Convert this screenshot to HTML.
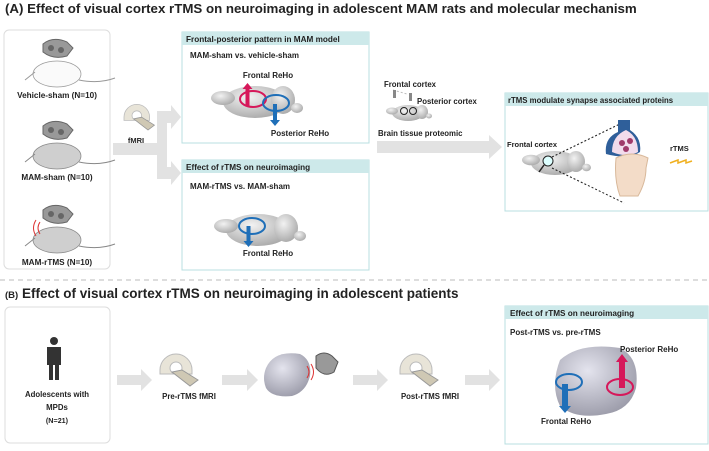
<!DOCTYPE html>
<html><head><meta charset="utf-8"><style>
body{margin:0;width:709px;height:446px;background:#fff;overflow:hidden;font-family:"Liberation Sans",sans-serif}
svg text{font-family:"Liberation Sans",sans-serif;font-weight:bold;fill:#222}
</style></head><body>
<svg width="709" height="446" viewBox="0 0 709 446" xmlns="http://www.w3.org/2000/svg">
<defs>
<radialGradient id="g" cx="40%" cy="35%" r="70%"><stop offset="0" stop-color="#f2f2f2"/><stop offset="1" stop-color="#a8a8a8"/></radialGradient>
<radialGradient id="hb" cx="40%" cy="35%" r="70%"><stop offset="0" stop-color="#e4e4ee"/><stop offset="1" stop-color="#9a9aa8"/></radialGradient>
<g id="rbrain"><ellipse cx="0" cy="0" rx="32" ry="16" fill="url(#g)"/><ellipse cx="-32" cy="-4" rx="12" ry="7" fill="url(#g)"/><ellipse cx="28" cy="-2" rx="12" ry="14" fill="url(#g)"/><ellipse cx="42" cy="6" rx="6" ry="5" fill="url(#g)"/></g>
<g id="scan"><path d="M0 14 a16 16 0 1 1 32 0 v4 h-32z" fill="#e8e4d8" stroke="#bbb"/><circle cx="16" cy="12" r="6" fill="#fff" stroke="#bbb"/><path d="M12 16 l18 14 l8 -6 l-16 -10z" fill="#cfc8b4" stroke="#999"/></g>
<g id="coil"><path d="M-14 -30 q10 -8 24 -2 l6 6 -6 8 q-14 4 -24 -4z" fill="#999" stroke="#666"/><circle cx="-6" cy="-26" r="3" fill="#666"/><circle cx="4" cy="-24" r="3" fill="#666"/></g>
</defs>
<text x="5" y="13" font-size="13.3">(A) Effect of visual cortex rTMS on neuroimaging in adolescent MAM rats and molecular mechanism</text>
<!-- left box -->
<rect x="4" y="30" width="106" height="239" rx="5" fill="#fff" stroke="#ddd"/>
<g transform="translate(57,74)"><use href="#coil"/><ellipse cx="0" cy="0" rx="24" ry="13" fill="#fafafa" stroke="#999" stroke-width=".7"/><path d="M-22 -2 l-10 8" stroke="#999"/><path d="M22 6 q20 4 36 -2" fill="none" stroke="#999"/></g>
<text x="57" y="98" font-size="8.2" text-anchor="middle">Vehicle-sham (N=10)</text>
<g transform="translate(57,156)"><use href="#coil"/><ellipse cx="0" cy="0" rx="24" ry="13" fill="#cfcfcf" stroke="#888" stroke-width=".7"/><path d="M-22 -2 l-10 8" stroke="#888"/><path d="M22 6 q20 4 36 -2" fill="none" stroke="#888"/></g>
<text x="57" y="180" font-size="8.2" text-anchor="middle">MAM-sham (N=10)</text>
<g transform="translate(57,240)"><use href="#coil"/><ellipse cx="0" cy="0" rx="24" ry="13" fill="#cfcfcf" stroke="#888" stroke-width=".7"/><path d="M-22 -2 l-10 8" stroke="#888"/><path d="M22 6 q20 4 36 -2" fill="none" stroke="#888"/></g>
<path d="M40 222 q-4 6 0 12 M36 220 q-5 8 0 16" fill="none" stroke="#d33" stroke-width="1"/>
<text x="57" y="265" font-size="8.2" text-anchor="middle">MAM-rTMS (N=10)</text>
<!-- fMRI -->
<g transform="translate(124,106) scale(0.8)"><use href="#scan"/></g>
<text x="136" y="143" font-size="7.5" text-anchor="middle">fMRI</text>
<path d="M113 143 h50 v12 h-50z M157 117 h10 v56 h-10z M157 111 h14 v-6 l10 12 -10 12 v-6 h-14z M157 167 h14 v-6 l10 12 -10 12 v-6 h-14z" fill="#e2e2e2"/>
<!-- box1 -->
<rect x="182" y="32" width="187" height="111" fill="#fff" stroke="#b9dfe0"/>
<rect x="182" y="32" width="187" height="13" fill="#cde9ea"/>
<text x="186" y="42" font-size="8.2">Frontal-posterior pattern in MAM model</text>
<text x="190" y="58" font-size="8">MAM-sham vs. vehicle-sham</text>
<text x="268" y="78" font-size="8" text-anchor="middle">Frontal ReHo</text>
<use href="#rbrain" x="255" y="102"/>
<ellipse cx="253" cy="99" rx="13" ry="8" fill="none" stroke="#d6185a" stroke-width="2"/>
<path d="M245.5 106 v-17 h-3 l5 -6 5 6 h-3 v17z" fill="#d6185a"/>
<ellipse cx="276" cy="103" rx="13" ry="8" fill="none" stroke="#1f6fb8" stroke-width="2"/>
<path d="M273 104 v16 h-3 l5 6 5 -6 h-3 v-16z" fill="#1f6fb8"/>
<text x="300" y="136" font-size="8" text-anchor="middle">Posterior ReHo</text>
<!-- box2 -->
<rect x="182" y="160" width="187" height="110" fill="#fff" stroke="#b9dfe0"/>
<rect x="182" y="160" width="187" height="13" fill="#cde9ea"/>
<text x="186" y="170" font-size="8.2">Effect of rTMS on neuroimaging</text>
<text x="190" y="189" font-size="8">MAM-rTMS vs. MAM-sham</text>
<use href="#rbrain" x="258" y="230"/>
<ellipse cx="252" cy="226" rx="13" ry="8" fill="none" stroke="#1f6fb8" stroke-width="2"/>
<path d="M246.5 226 v15 h-3 l5 6 5 -6 h-3 v-15z" fill="#1f6fb8"/>
<text x="268" y="256" font-size="8" text-anchor="middle">Frontal ReHo</text>
<!-- middle -->
<text x="384" y="87" font-size="7.8">Frontal cortex</text>
<text x="417" y="104" font-size="7.8">Posterior cortex</text>
<path d="M393 90 l14 4" stroke="#bbb" stroke-dasharray="2 2"/>
<rect x="393" y="90" width="3" height="8" fill="#888"/><rect x="409" y="93" width="3" height="8" fill="#888"/>
<g transform="translate(408,113) scale(0.5)"><use href="#rbrain"/></g>
<circle cx="404" cy="111" r="3.5" fill="none" stroke="#222"/><circle cx="413" cy="111" r="3.5" fill="none" stroke="#222"/>
<text x="378" y="136" font-size="7.8">Brain tissue proteomic</text>
<path d="M377 141 h112 v-6 l13 12 -13 12 v-6 h-112z" fill="#e2e2e2"/>
<!-- right box -->
<rect x="505" y="93" width="203" height="118" fill="#fff" stroke="#b9dfe0"/>
<rect x="505" y="93" width="203" height="13" fill="#cde9ea"/>
<text x="508" y="103" font-size="7.8">rTMS modulate synapse associated proteins</text>
<text x="507" y="147" font-size="7.5">Frontal cortex</text>
<g transform="translate(555,163) scale(0.75)"><use href="#rbrain"/></g>
<circle cx="548" cy="161" r="5" fill="#dff" stroke="#222"/><path d="M544 165 l-5 7" stroke="#222" stroke-width="1.5"/>
<path d="M552 157 L626 121 M552 168 L624 203" stroke="#222" stroke-dasharray="2 2"/>
<path d="M618 120 h12 v10 q12 8 10 22 q-12 8 -34 2 q-2 -16 12 -22z" fill="#2f5f9a"/>
<path d="M612 152 q0 -16 14 -22 q12 6 12 22 q-12 6 -26 0z" fill="#f2dcec"/>
<circle cx="622" cy="143" r="3" fill="#a03a6a"/><circle cx="630" cy="141" r="3" fill="#a03a6a"/><circle cx="626" cy="149" r="3" fill="#a03a6a"/>
<path d="M616 158 q16 -8 32 0 l-2 10 q0 14 -8 28 h-18 q-6 -16 -4 -38z" fill="#f3dcc8" stroke="#d8b89a"/>
<text x="670" y="151" font-size="7.5">rTMS</text>
<path d="M670 163 l8 -3 0 3 8 -3 0 3 6 -2" fill="none" stroke="#f0b020" stroke-width="1.5"/>
<!-- dashed -->
<line x1="0" y1="280" x2="709" y2="280" stroke="#bbb" stroke-dasharray="5 4"/>
<text x="5" y="298" font-size="13.5"><tspan font-size="9.5">(B)</tspan>  Effect of visual cortex rTMS on neuroimaging in adolescent patients</text>
<!-- bottom -->
<rect x="5" y="307" width="105" height="136" rx="5" fill="#fff" stroke="#ddd"/>
<circle cx="54" cy="341" r="4" fill="#333"/>
<path d="M47 347 h14 v18 h-2 v15 h-4 v-15 h-2 v15 h-4 v-15 h-2z" fill="#333"/>
<text x="57" y="397" font-size="7.8" text-anchor="middle">Adolescents with</text>
<text x="57" y="410" font-size="7.8" text-anchor="middle">MPDs</text>
<text x="57" y="423" font-size="7.2" text-anchor="middle" font-weight="normal">(N=21)</text>
<g fill="#e2e2e2">
<path d="M117 375 h24 v-6 l11 11 -11 11 v-6 h-24z"/>
<path d="M222 375 h25 v-6 l11 11 -11 11 v-6 h-25z"/>
<path d="M353 375 h24 v-6 l11 11 -11 11 v-6 h-24z"/>
<path d="M465 375 h24 v-6 l11 11 -11 11 v-6 h-24z"/>
</g>
<use href="#scan" x="160" y="356"/>
<text x="189" y="399" font-size="7.8" text-anchor="middle">Pre-rTMS fMRI</text>
<path d="M266 368 q8 -18 34 -14 q12 6 10 22 q-4 16 -18 20 q-20 2 -26 -8 q-4 -10 0 -20z" fill="url(#hb)"/>
<path d="M307 366 q4 6 0 12 M311 364 q5 8 0 16" fill="none" stroke="#d33"/>
<path d="M316 356 q8 -6 16 0 l6 6 -4 10 q-10 6 -18 -4z" fill="#999" stroke="#555"/>
<use href="#scan" x="400" y="356"/>
<text x="430" y="399" font-size="7.8" text-anchor="middle">Post-rTMS fMRI</text>
<rect x="505" y="306" width="203" height="138" fill="#fff" stroke="#b9dfe0"/>
<rect x="505" y="306" width="203" height="13" fill="#cde9ea"/>
<text x="510" y="316" font-size="8.2">Effect of rTMS on neuroimaging</text>
<text x="510" y="335" font-size="8">Post-rTMS vs. pre-rTMS</text>
<path d="M560 360 q20 -18 60 -12 q20 10 16 40 q-6 22 -30 26 q-30 6 -46 -8 q-10 -20 0 -46z" fill="url(#hb)"/>
<ellipse cx="569" cy="382" rx="13" ry="8" fill="none" stroke="#1f6fb8" stroke-width="2"/>
<path d="M562 384 v22 h-3 l6 7 6 -7 h-3 v-22z" fill="#1f6fb8"/>
<ellipse cx="620" cy="387" rx="13" ry="8" fill="none" stroke="#d6185a" stroke-width="2"/>
<path d="M619 388 v-26 h-3 l6 -8 6 8 h-3 v26z" fill="#d6185a"/>
<text x="620" y="352" font-size="8">Posterior ReHo</text>
<text x="541" y="424" font-size="8">Frontal ReHo</text>
</svg>
</body></html>
